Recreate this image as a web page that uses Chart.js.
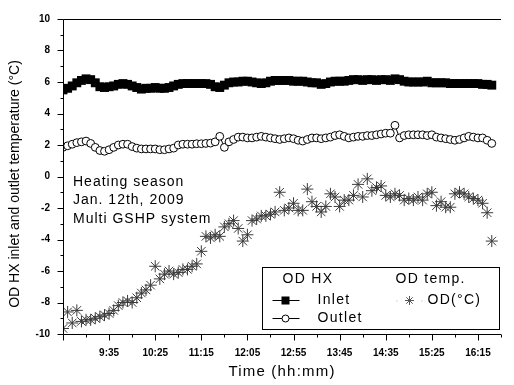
<!DOCTYPE html>
<html><head><meta charset="utf-8">
<script src="https://cdn.jsdelivr.net/npm/chart.js@4.4.1/dist/chart.umd.min.js"></script>
<style>html,body{margin:0;padding:0;background:#fff;}#wrap{width:514px;height:385px;}</style>
</head><body><div id="wrap"><canvas id="c" width="514" height="385"></canvas></div>
<script>
// ---- data ----
const times = ['8:45','8:50','8:55','9:00','9:05','9:10','9:15','9:20','9:25','9:30',
'9:35','9:40','9:45','9:50','9:55','10:00','10:05','10:10','10:15','10:20',
'10:25','10:30','10:35','10:40','10:45','10:50','10:55','11:00','11:05','11:10',
'11:15','11:20','11:25','11:30','11:35','11:40','11:45','11:50','11:55','12:00',
'12:05','12:10','12:15','12:20','12:25','12:30','12:35','12:40','12:45','12:50',
'12:55','13:00','13:05','13:10','13:15','13:20','13:25','13:30','13:35','13:40',
'13:45','13:50','13:55','14:00','14:05','14:10','14:15','14:20','14:25','14:30',
'14:35','14:40','14:45','14:50','14:55','15:00','15:05','15:10','15:15','15:20',
'15:25','15:30','15:35','15:40','15:45','15:50','15:55','16:00','16:05','16:10',
'16:15','16:20','16:25','16:30'];
const inletTemp = [5.5,5.6,5.75,5.95,6.1,6.2,6.15,5.95,5.7,5.65,
5.7,5.75,5.85,5.9,5.85,5.75,5.65,5.55,5.6,5.6,
5.65,5.6,5.6,5.65,5.75,5.85,5.9,5.9,5.9,5.9,
5.9,5.9,5.85,5.7,5.65,5.8,5.95,6.0,6.0,6.05,
6.05,6.0,5.95,5.9,5.95,6.05,6.1,6.1,6.1,6.1,
6.05,6.05,6.05,6.0,5.95,5.95,5.85,5.9,6.0,6.05,
6.05,6.05,6.1,6.15,6.15,6.1,6.15,6.15,6.1,6.15,
6.15,6.1,6.2,6.15,6.05,6.0,6.0,6.0,6.0,6.05,
5.95,5.95,5.95,5.95,5.9,5.9,5.9,5.9,5.9,5.9,
5.9,5.85,5.85,5.8];
const outletTemp = [1.85,1.95,2.05,2.15,2.2,2.25,2.1,1.85,1.65,1.6,
1.7,1.85,2.0,2.05,2.05,1.9,1.8,1.75,1.75,1.75,
1.75,1.7,1.7,1.75,1.8,2.0,2.05,2.05,2.05,2.08,
2.08,2.1,2.12,2.2,2.55,1.85,2.2,2.35,2.5,2.5,
2.45,2.45,2.5,2.55,2.5,2.45,2.4,2.35,2.4,2.45,
2.4,2.3,2.25,2.35,2.45,2.45,2.4,2.45,2.5,2.6,
2.65,2.55,2.45,2.5,2.55,2.55,2.6,2.6,2.65,2.7,
2.75,2.75,3.25,2.45,2.6,2.65,2.65,2.65,2.65,2.6,
2.65,2.5,2.45,2.4,2.35,2.3,2.35,2.45,2.55,2.5,
2.45,2.45,2.3,2.1];
const odTemp = [-9.65,-8.6,-9.3,-8.5,-9.2,-9.1,-9.1,-9.0,-8.9,-8.8,
-8.7,-8.5,-8.2,-8.0,-7.9,-8.0,-7.7,-7.4,-7.2,-6.9,
-5.7,-6.5,-6.2,-6.0,-6.2,-6.1,-5.9,-5.9,-5.7,-5.55,
-4.75,-3.8,-3.9,-3.7,-3.8,-3.2,-3.0,-2.8,-3.3,-4.1,
-3.7,-2.8,-2.7,-2.5,-2.5,-2.4,-2.25,-1.0,-2.15,-2.0,
-1.7,-2.15,-2.15,-0.8,-1.6,-1.9,-2.25,-1.9,-1.1,-1.3,
-1.9,-1.5,-1.5,-1.2,-0.5,-1.3,-0.15,-0.9,-0.7,-0.6,
-1.2,-1.3,-1.1,-1.2,-1.5,-1.4,-1.5,-1.3,-1.5,-1.1,
-1.0,-1.85,-1.6,-1.95,-1.95,-1.1,-1.0,-1.1,-1.3,-1.4,
-1.5,-1.7,-2.3,-4.1];
const xTickLabels = ['9:35','10:25','11:15','12:05','12:55','13:45','14:35','15:25','16:15'];
const yTickLabels = [-10,-8,-6,-4,-2,0,2,4,6,8,10];
const xMinTime = '8:45', xMaxTime = '16:40';
const seriesNames = ['Inlet','Outlet','OD(°C)'];
const legendHeaders = ['OD HX','OD temp.'];
const noteLines = ['Heating season','Jan. 12th, 2009','Multi GSHP system'];
const xTitle = 'Time (hh:mm)';
const yTitle = 'OD HX inlet and outlet temperature (°C)';

// ---- helpers ----
const toMin = s => { const [h,m] = s.split(':').map(Number); return h*60+m; };
const labeledMins = xTickLabels.map(toMin);
const pts = arr => times.map((t,i) => ({x: toMin(t), y: arr[i]}));
const FONT = "'Liberation Sans', Arial, Helvetica, sans-serif";
Chart.defaults.font.family = FONT;
Chart.defaults.color = '#000';

function star(ctx, x, y, r){
  ctx.beginPath();
  for (let k=0;k<4;k++){ const a = k*Math.PI/4; ctx.moveTo(x-r*Math.cos(a), y-r*Math.sin(a)); ctx.lineTo(x+r*Math.cos(a), y+r*Math.sin(a)); }
  ctx.stroke();
}

const decor = {
  id: 'decor',
  afterDraw(chart){
    const {ctx, chartArea: a, scales: {x, y}} = chart;
    ctx.save();
    ctx.strokeStyle = '#000'; ctx.lineWidth = 1;
    const L = Math.round(a.left)+0.5, B = Math.round(a.bottom)+0.5, T = Math.round(a.top)+0.5;
    ctx.beginPath();
    ctx.moveTo(L, T); ctx.lineTo(L, B); ctx.lineTo(a.right, B);
    ctx.moveTo(L, T); ctx.lineTo(a.right, T);
    ctx.stroke();
    // tick marks
    ctx.beginPath();
    x.ticks.forEach(t => {
      const px = Math.round(x.getPixelForValue(t.value))+0.5;
      const major = ((t.value - labeledMins[0]) % 50 + 50) % 50 === 0;
      ctx.moveTo(px, B); ctx.lineTo(px, B + (major ? 6 : 3));
    });
    y.ticks.forEach(t => {
      const py = Math.round(y.getPixelForValue(t.value))+0.5;
      const major = yTickLabels.includes(t.value);
      ctx.moveTo(L, py); ctx.lineTo(L - (major ? 6 : 3), py);
    });
    ctx.stroke();

    // notes
    ctx.fillStyle = '#000';
    ctx.font = '14px ' + FONT;
    ctx.textBaseline = 'middle'; ctx.textAlign = 'left';
    ctx.letterSpacing = '1px';
    noteLines.forEach((s, i) => ctx.fillText(s, a.left + 10, a.top + 163 + i*18.5));

    // axis titles
    ctx.textAlign = 'center';
    ctx.font = '15px ' + FONT; ctx.letterSpacing = '1.2px';
    ctx.fillText(xTitle, (a.left + a.right)/2, 372);
    ctx.letterSpacing = '0px';
    ctx.save();
    ctx.font = '14px ' + FONT;
    ctx.translate(15, 184); ctx.rotate(-Math.PI/2);
    ctx.fillText(yTitle, 0, 0);
    ctx.restore();

    // legend
    const lw = 237, lh = 62;
    const lx = Math.round(a.right - 239)+0.5, ly = Math.round(a.bottom - 67)+0.5;
    ctx.fillStyle = '#fff'; ctx.fillRect(lx, ly, lw, lh);
    ctx.strokeStyle = '#000'; ctx.lineWidth = 1; ctx.strokeRect(lx, ly, lw, lh);
    ctx.fillStyle = '#000';
    ctx.font = '14px ' + FONT; ctx.letterSpacing = '1.3px'; ctx.textAlign = 'left';
    ctx.fillText(legendHeaders[0], lx + 20, ly + 12);
    ctx.fillText(legendHeaders[1], lx + 133, ly + 12);
    const r1 = ly + 33, r2 = ly + 51;
    ctx.fillText(seriesNames[0], lx + 55, r1);
    ctx.fillText(seriesNames[1], lx + 55, r2);
    ctx.fillText(seriesNames[2], lx + 165, r1);
    ctx.letterSpacing = '0px';
    ctx.beginPath();
    ctx.moveTo(lx + 10, r1); ctx.lineTo(lx + 37, r1);
    ctx.moveTo(lx + 10, r2); ctx.lineTo(lx + 37, r2);
    ctx.stroke();
    ctx.fillRect(lx + 23 - 4, r1 - 4, 8, 8);
    ctx.beginPath(); ctx.arc(lx + 23, r2, 3.5, 0, Math.PI*2);
    ctx.fillStyle = '#fff'; ctx.fill(); ctx.stroke();
    ctx.strokeStyle = '#555'; star(ctx, lx + 147, r1, 4.5);
    ctx.fillStyle = '#aaa';
    ctx.fillRect(lx + 134, r1, 1, 1); ctx.fillRect(lx + 159, r1, 1, 1);
    ctx.restore();
  }
};

new Chart(document.getElementById('c'), {
  type: 'line',
  data: {
    datasets: [
      { label: seriesNames[0], data: pts(inletTemp), borderColor: '#000', borderWidth: 2,
        pointStyle: 'rect', pointRadius: 6.3, pointBackgroundColor: '#000', pointBorderColor: '#000', pointBorderWidth: 0 },
      { label: seriesNames[1], data: pts(outletTemp), borderColor: '#000', borderWidth: 1,
        pointStyle: 'circle', pointRadius: 3.9, pointBackgroundColor: '#fff', pointBorderColor: '#000', pointBorderWidth: 1 },
      { label: seriesNames[2], data: pts(odTemp), showLine: false, borderColor: '#333',
        pointStyle: 'star', pointRadius: 6, pointBorderColor: '#3a3a3a', pointBorderWidth: 1, pointBackgroundColor: '#000' }
    ]
  },
  options: {
    responsive: false, animation: false, devicePixelRatio: 1,
    layout: { padding: { top: 14, right: 0, bottom: 0, left: 0 } },
    plugins: { legend: { display: false }, tooltip: { enabled: false } },
    scales: {
      x: {
        type: 'linear', min: toMin(xMinTime), max: toMin(xMaxTime),
        grid: { display: false, drawTicks: false }, border: { display: false },
        afterFit: s => { s.height = 51; },
        ticks: { stepSize: 25, autoSkip: false, maxRotation: 0, minRotation: 0, padding: 13,
          font: { size: 10, weight: 'bold' },
          callback: v => { const i = labeledMins.indexOf(v); return i >= 0 ? xTickLabels[i] : ''; } }
      },
      y: {
        type: 'linear', min: -10, max: 10,
        grid: { display: false, drawTicks: false }, border: { display: false },
        afterFit: s => { s.width = 63; },
        ticks: { stepSize: 1, autoSkip: false, padding: 13,
          font: { size: 10, weight: 'bold' },
          callback: v => yTickLabels.includes(v) ? String(v) : '' }
      }
    }
  },
  plugins: [decor]
});
</script></body></html>
